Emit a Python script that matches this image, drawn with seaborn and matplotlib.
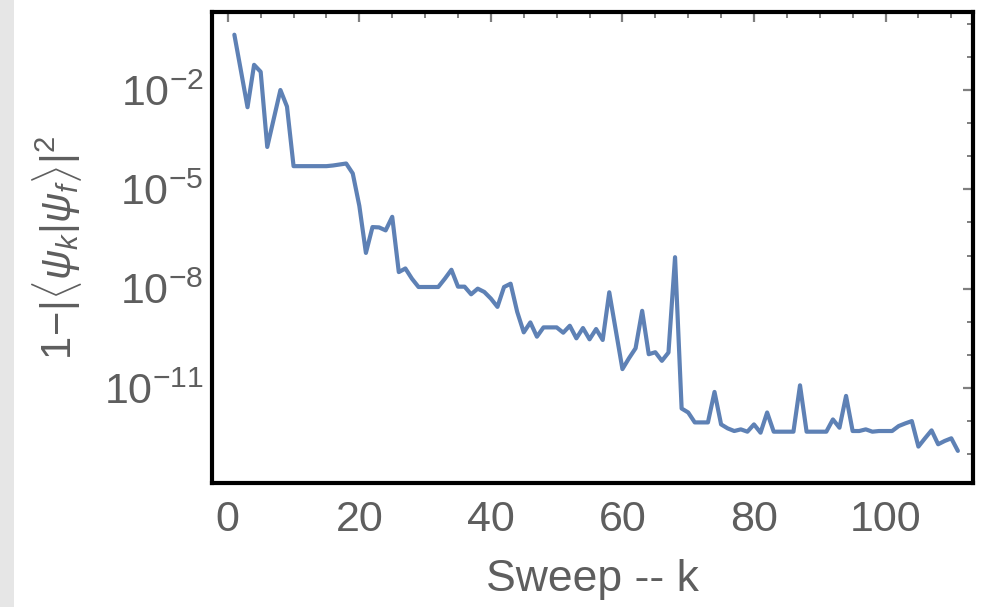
import numpy as np
import pandas as pd
import matplotlib
matplotlib.use("Agg")
import matplotlib.pyplot as plt
import matplotlib.ticker as mticker
from matplotlib.patches import Rectangle
import seaborn as sns

# ---- data ----
sweeps = list(range(1, 112))
log10_infidelity = [
    -0.33, -1.42, -2.52, -1.24, -1.45, -3.72, -2.86, -2.00, -2.50, -4.30,
    -4.30, -4.30, -4.30, -4.30, -4.30, -4.28, -4.25, -4.22, -4.52, -5.50,
    -6.92, -6.14, -6.15, -6.24, -5.83, -7.50, -7.39, -7.70, -7.95, -7.95,
    -7.95, -7.95, -7.70, -7.43, -7.94, -7.94, -8.17, -8.00, -8.10, -8.30,
    -8.55, -7.95, -7.85, -8.70, -9.32, -9.02, -9.45, -9.17, -9.17, -9.17,
    -9.33, -9.12, -9.50, -9.19, -9.53, -9.22, -9.55, -8.11, -9.27, -10.43,
    -10.10, -9.80, -8.67, -9.98, -9.92, -10.18, -9.93, -7.05, -11.62, -11.74,
    -12.04, -12.04, -12.04, -11.12, -12.10, -12.22, -12.30, -12.25, -12.32, -12.10,
    -12.35, -11.74, -12.32, -12.32, -12.32, -12.32, -10.92, -12.32, -12.32, -12.32,
    -12.32, -11.95, -12.20, -11.24, -12.30, -12.30, -12.25, -12.32, -12.30, -12.30,
    -12.30, -12.15, -12.07, -12.00, -12.77, -12.52, -12.28, -12.70, -12.60, -12.52,
    -12.90,
]
x_ticks = [0, 20, 40, 60, 80, 100]
y_tick_exponents = [-2, -5, -8, -11]
x_label = "Sweep -- k"
y_label = r"$1\!-\!|\langle\psi_k|\psi_f\rangle|^2$"

df = pd.DataFrame({"k": sweeps, "value": np.power(10.0, log10_infidelity)})

# ---- style ----
sns.set_theme(style="white")
plt.rcParams["font.family"] = ["Liberation Sans", "DejaVu Sans"]
plt.rcParams["mathtext.fontset"] = "custom"
plt.rcParams["mathtext.rm"] = "Liberation Sans"
plt.rcParams["mathtext.it"] = "Liberation Sans:italic"
plt.rcParams["mathtext.bf"] = "Liberation Sans:bold"

text_color = "#5e5e5e"
tick_color = "#7f7f7f"

fig = plt.figure(figsize=(9.87, 6.07), dpi=100)
fig.patch.set_facecolor("white")
# light grey strip at the left edge of the screenshot
fig.add_artist(Rectangle((0, 0), 14 / 987, 1, transform=fig.transFigure,
                         facecolor="#e6e6e6", edgecolor="none", zorder=0))

ax = fig.add_axes([212 / 987, 1 - 483 / 607, (973 - 212) / 987, (483 - 12) / 607])
ax.set_facecolor("white")

sns.lineplot(data=df, x="k", y="value", ax=ax, color="#5E81B5", linewidth=3.0)
ax.set_yscale("log")

ax.set_xlim(-2.4, 113.3)
ax.set_ylim(10 ** -13.87, 10 ** 0.356)

ax.xaxis.set_major_locator(mticker.FixedLocator(x_ticks))
ax.xaxis.set_minor_locator(mticker.MultipleLocator(5))
ax.yaxis.set_major_locator(mticker.FixedLocator([10.0 ** e for e in y_tick_exponents]))
ax.yaxis.set_minor_locator(mticker.FixedLocator([10.0 ** e for e in range(-13, 1)]))
ax.yaxis.set_major_formatter(mticker.FuncFormatter(
    lambda v, p: r"$10^{%d}$" % int(round(np.log10(v)))))
ax.yaxis.set_minor_formatter(mticker.NullFormatter())

ax.tick_params(axis="both", which="both", direction="in", top=True, right=True,
               colors=tick_color, labelcolor=text_color)
ax.tick_params(axis="both", which="major", length=7, width=1.6, labelsize=31)
ax.tick_params(axis="both", which="minor", length=4, width=1.4)
ax.tick_params(axis="x", which="major", pad=12)
ax.tick_params(axis="y", which="major", pad=6)

for s in ax.spines.values():
    s.set_color("black")
    s.set_linewidth(3.0)
    s.set_visible(True)

ax.set_xlabel(x_label, fontsize=32, color=text_color, labelpad=14)
ax.set_ylabel(y_label, fontsize=30, color=text_color, labelpad=14)
ax.grid(False)

fig.savefig("out.png", dpi=100)
